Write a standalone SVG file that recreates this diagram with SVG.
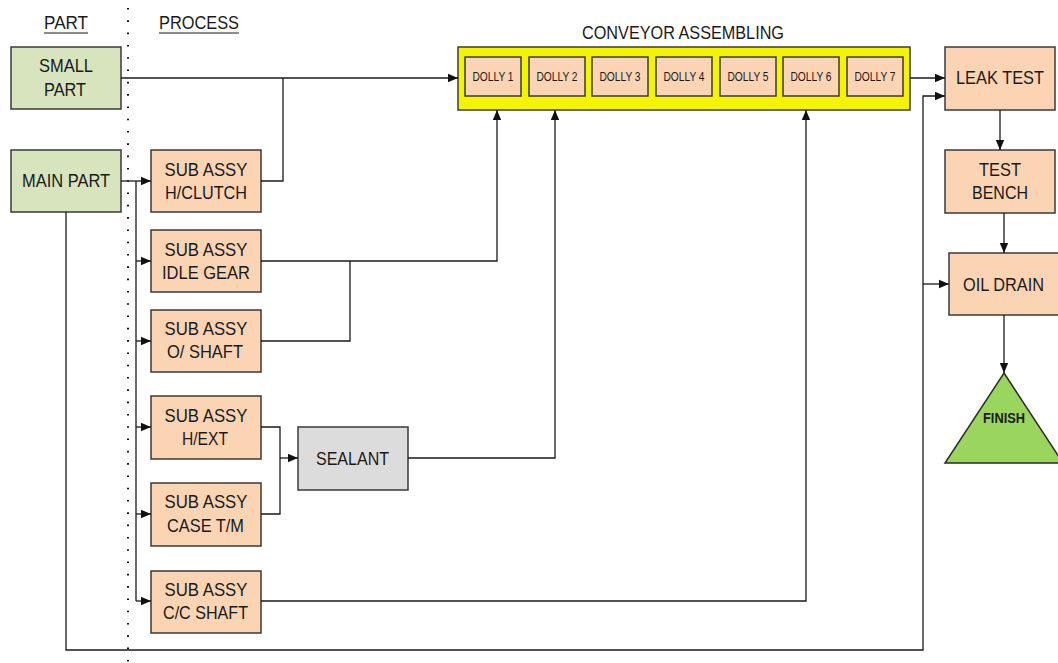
<svg xmlns="http://www.w3.org/2000/svg" width="1058" height="663" viewBox="0 0 1058 663">
<defs>
<marker id="ah" markerWidth="10" markerHeight="10" refX="10" refY="5" orient="auto" markerUnits="userSpaceOnUse">
<path d="M0,0.8 L10,5 L0,9.2 Z" fill="#111"/>
</marker>
</defs>
<style>
.t{font-family:"Liberation Sans",Arial,sans-serif;font-size:19px;fill:#1a1a1a;text-anchor:middle}
.d{font-family:"Liberation Sans",Arial,sans-serif;font-size:13px;fill:#1a1a1a;text-anchor:middle}
.g{fill:#d7e4bd;stroke:#3a3a3a;stroke-width:1.5}
.s{fill:#fbd4b4;stroke:#3a3a3a;stroke-width:1.5}
.c{fill:none;stroke:#1a1a1a;stroke-width:1.3}
</style>
<rect width="1058" height="663" fill="#ffffff"/>
<g id="headers">
<text class="t" x="66" y="29" textLength="44" lengthAdjust="spacingAndGlyphs">PART</text>
<line x1="44" y1="33" x2="88" y2="33" stroke="#1a1a1a" stroke-width="1"/>
<text class="t" x="199" y="29" textLength="80" lengthAdjust="spacingAndGlyphs">PROCESS</text>
<line x1="159" y1="33" x2="239" y2="33" stroke="#1a1a1a" stroke-width="1"/>
<line x1="128" y1="8" x2="128" y2="663" stroke="#111" stroke-width="2" stroke-dasharray="1.6 10.7"/>
</g>
<g id="small-part"><rect class="g" x="11" y="47" width="110" height="62"/>
<text class="t" x="66" y="72" textLength="54" lengthAdjust="spacingAndGlyphs">SMALL</text>
<text class="t" x="65" y="96" textLength="42" lengthAdjust="spacingAndGlyphs">PART</text></g>
<g id="main-part"><rect class="g" x="11" y="150" width="110" height="62"/>
<text class="t" x="66" y="187" textLength="88" lengthAdjust="spacingAndGlyphs">MAIN PART</text></g>
<g id="sa-hclutch"><rect class="s" x="151" y="150" width="110" height="62"/>
<text class="t" x="206" y="176" textLength="83" lengthAdjust="spacingAndGlyphs">SUB ASSY</text>
<text class="t" x="206" y="199" textLength="82" lengthAdjust="spacingAndGlyphs">H/CLUTCH</text></g>
<g id="sa-idlegear"><rect class="s" x="151" y="230" width="110" height="62"/>
<text class="t" x="206" y="256" textLength="83" lengthAdjust="spacingAndGlyphs">SUB ASSY</text>
<text class="t" x="206" y="279" textLength="88" lengthAdjust="spacingAndGlyphs">IDLE GEAR</text></g>
<g id="sa-oshaft"><rect class="s" x="151" y="310" width="110" height="62"/>
<text class="t" x="206" y="335" textLength="83" lengthAdjust="spacingAndGlyphs">SUB ASSY</text>
<text class="t" x="205" y="358" textLength="76" lengthAdjust="spacingAndGlyphs">O/ SHAFT</text></g>
<g id="sa-hext"><rect class="s" x="151" y="396" width="110" height="63"/>
<text class="t" x="206" y="422" textLength="83" lengthAdjust="spacingAndGlyphs">SUB ASSY</text>
<text class="t" x="205" y="445" textLength="46" lengthAdjust="spacingAndGlyphs">H/EXT</text></g>
<g id="sa-case"><rect class="s" x="151" y="483" width="110" height="63"/>
<text class="t" x="206" y="508" textLength="83" lengthAdjust="spacingAndGlyphs">SUB ASSY</text>
<text class="t" x="205.5" y="532" textLength="77" lengthAdjust="spacingAndGlyphs">CASE T/M</text></g>
<g id="sa-ccshaft"><rect class="s" x="151" y="571" width="110" height="62"/>
<text class="t" x="206" y="596" textLength="83" lengthAdjust="spacingAndGlyphs">SUB ASSY</text>
<text class="t" x="205.5" y="619" textLength="85" lengthAdjust="spacingAndGlyphs">C/C SHAFT</text></g>
<g id="sealant"><rect x="298" y="427" width="110" height="63" fill="#dcdcdc" stroke="#3a3a3a" stroke-width="1.5"/>
<text class="t" x="352.5" y="465" textLength="73" lengthAdjust="spacingAndGlyphs">SEALANT</text></g>
<g id="conveyor">
<text class="t" x="683" y="39" textLength="202" lengthAdjust="spacingAndGlyphs">CONVEYOR ASSEMBLING</text>
<rect x="458" y="47" width="452" height="63" fill="#f4f400" stroke="#3a3a3a" stroke-width="1.5"/>
<rect class="s" x="465" y="57" width="56" height="39"/><text class="d" x="493" y="81" textLength="41" lengthAdjust="spacingAndGlyphs">DOLLY 1</text>
<rect class="s" x="529" y="57" width="56" height="39"/><text class="d" x="557" y="81" textLength="41" lengthAdjust="spacingAndGlyphs">DOLLY 2</text>
<rect class="s" x="592" y="57" width="56" height="39"/><text class="d" x="620" y="81" textLength="41" lengthAdjust="spacingAndGlyphs">DOLLY 3</text>
<rect class="s" x="656" y="57" width="56" height="39"/><text class="d" x="684" y="81" textLength="41" lengthAdjust="spacingAndGlyphs">DOLLY 4</text>
<rect class="s" x="720" y="57" width="56" height="39"/><text class="d" x="748" y="81" textLength="41" lengthAdjust="spacingAndGlyphs">DOLLY 5</text>
<rect class="s" x="783" y="57" width="56" height="39"/><text class="d" x="811" y="81" textLength="41" lengthAdjust="spacingAndGlyphs">DOLLY 6</text>
<rect class="s" x="847" y="57" width="56" height="39"/><text class="d" x="875" y="81" textLength="41" lengthAdjust="spacingAndGlyphs">DOLLY 7</text>
</g>
<g id="leak-test"><rect class="s" x="945" y="47" width="110" height="63"/>
<text class="t" x="1000" y="84" textLength="88" lengthAdjust="spacingAndGlyphs">LEAK TEST</text></g>
<g id="test-bench"><rect class="s" x="945" y="150" width="110" height="63"/>
<text class="t" x="1000" y="176" textLength="42" lengthAdjust="spacingAndGlyphs">TEST</text>
<text class="t" x="1000" y="199" textLength="56" lengthAdjust="spacingAndGlyphs">BENCH</text></g>
<g id="oil-drain"><rect class="s" x="949" y="253" width="115" height="62"/>
<text class="t" x="1003.5" y="291" textLength="81" lengthAdjust="spacingAndGlyphs">OIL DRAIN</text></g>
<g id="finish"><path d="M1004,373 L1063,463 L945,463 Z" fill="#9ad55e" stroke="#2a2a2a" stroke-width="1.5"/>
<text x="1004" y="423" font-family="Liberation Sans, Arial, sans-serif" font-size="14" font-weight="bold" fill="#1a1a1a" text-anchor="middle" textLength="42" lengthAdjust="spacingAndGlyphs">FINISH</text></g>
<g id="connectors">
<path class="c" d="M121,78 H458" marker-end="url(#ah)"/>
<path class="c" d="M261,181 H283 V78"/>
<path class="c" d="M121,181 H151" marker-end="url(#ah)"/>
<path class="c" d="M136,181 V601"/>
<path class="c" d="M136,261 H151" marker-end="url(#ah)"/>
<path class="c" d="M136,341 H151" marker-end="url(#ah)"/>
<path class="c" d="M136,427 H151" marker-end="url(#ah)"/>
<path class="c" d="M136,514 H151" marker-end="url(#ah)"/>
<path class="c" d="M136,601 H151" marker-end="url(#ah)"/>
<path class="c" d="M261,261 H497 V110" marker-end="url(#ah)"/>
<path class="c" d="M261,341 H350 V261"/>
<path class="c" d="M261,427 H280 V514 H261"/>
<path class="c" d="M280,458 H298" marker-end="url(#ah)"/>
<path class="c" d="M408,458 H555 V110" marker-end="url(#ah)"/>
<path class="c" d="M261,601 H806 V110" marker-end="url(#ah)"/>
<path class="c" d="M910,78 H945" marker-end="url(#ah)"/>
<path class="c" d="M66,212 V650 H923 V96 H945" marker-end="url(#ah)"/>
<path class="c" d="M923,284 H949" marker-end="url(#ah)"/>
<path class="c" d="M1000,110 V150" marker-end="url(#ah)"/>
<path class="c" d="M1004,213 V253" marker-end="url(#ah)"/>
<path class="c" d="M1004,315 V373" marker-end="url(#ah)"/>
</g>
</svg>
